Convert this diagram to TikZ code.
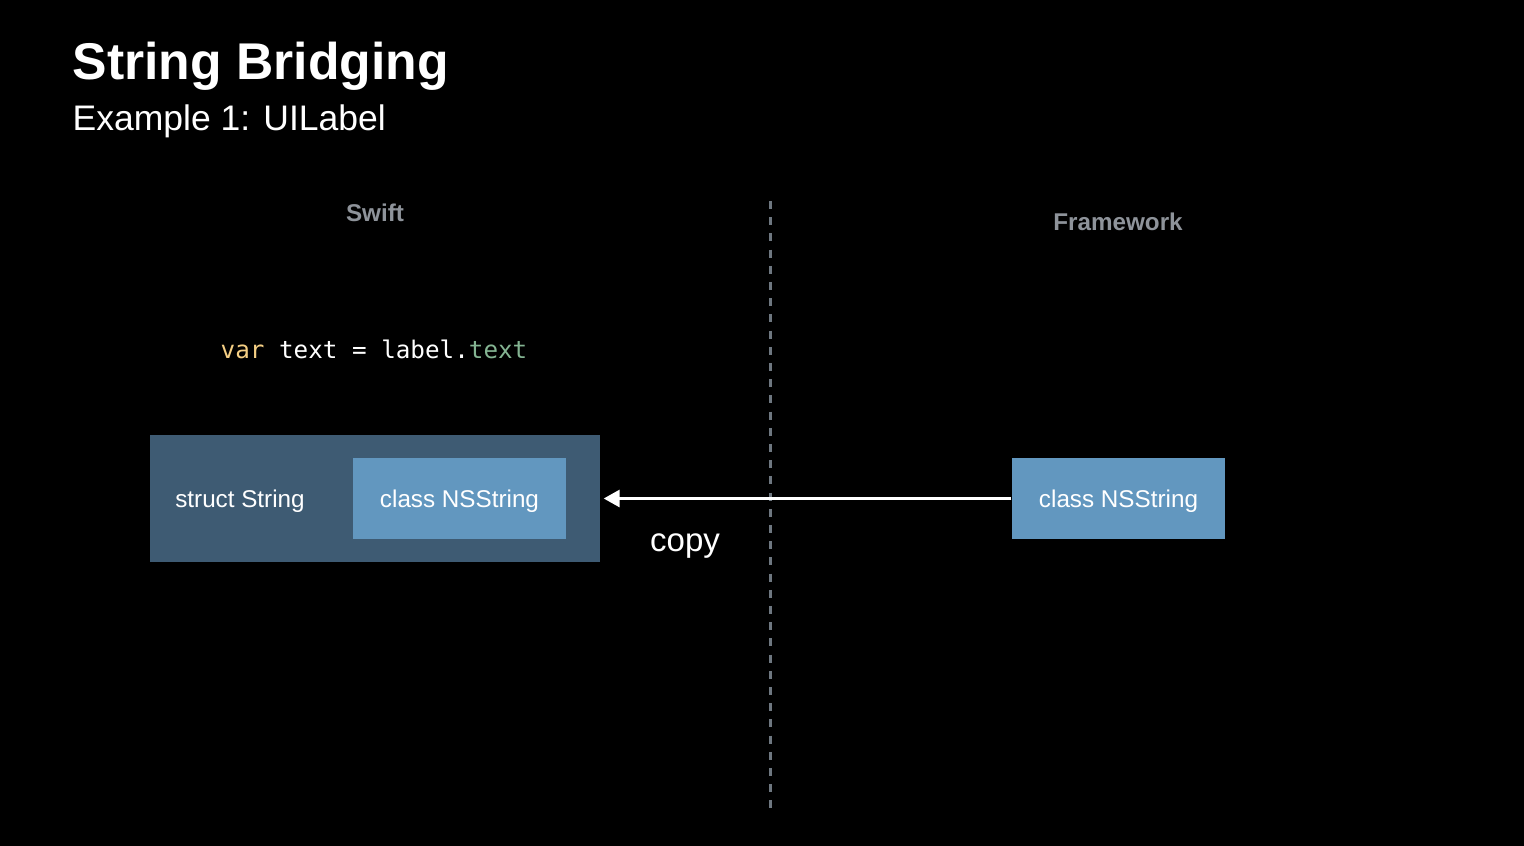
\documentclass[tikz,border=0pt]{standalone}
\usepackage{fontspec}
\setmainfont{Liberation Sans}
\setmonofont{DejaVu Sans Mono}
\usepackage{tikz}
\usetikzlibrary{arrows.meta}
\definecolor{outerblue}{RGB}{62,91,115}
\definecolor{innerblue}{RGB}{98,151,191}
\definecolor{headgray}{RGB}{142,147,154}
\definecolor{dashgray}{RGB}{110,119,128}
\definecolor{kwyellow}{RGB}{245,207,132}
\definecolor{propgreen}{RGB}{132,180,146}

\begin{document}
\begin{tikzpicture}
[>={Triangle[length=0.16cm,width=0.17cm]},
 side/.style={text=headgray,font=\fontsize{6.9}{8}\selectfont\bfseries},
 boxtext/.style={text=white,text depth=0pt,font=\fontsize{6.9}{8}\selectfont},
 nsbox/.style={fill=innerblue,minimum width=2.13cm,minimum height=0.81cm,inner sep=0pt,boxtext}]
\fill[black] (0,0) rectangle (15.24,-8.46);
\useasboundingbox (0,0) rectangle (15.24,-8.46);
\node[anchor=base west,text=white,inner sep=0pt,font=\fontsize{14.7}{17}\selectfont\bfseries] (title) at (0.72,-0.80) {String Bridging};
\node[anchor=base west,text=white,inner sep=0pt,font=\fontsize{10.1}{12}\selectfont] (subtitle) at (0.72,-1.31) {Example 1: UILabel};
\node[side] (swift) at (3.75,-2.13) {Swift};
\node[side] (framework) at (11.18,-2.22) {Framework};
\node[text=white,font=\fontsize{6.9}{8}\selectfont\ttfamily] (code) at (3.74,-3.49)
{\textcolor{kwyellow}{var} text = label.\textcolor{propgreen}{text}};

\node[fill=outerblue,minimum width=4.5cm,minimum height=1.27cm,inner sep=0pt] (structbox) at (3.75,-4.985) {};
\node[boxtext] (structlabel) at (2.40,-4.985) {struct String};
\node[nsbox] (swiftns) at (4.595,-4.985) {class NSString};
\node[nsbox] (frameworkns) at (11.185,-4.985) {class NSString};

\coordinate (divtop) at (7.70,-2.01);
\coordinate (divbottom) at (7.70,-8.10);
\draw[dashgray,line width=0.85pt,dash pattern=on 0.081cm off 0.081cm] (divtop) -- (divbottom);

\draw[->,white,line width=0.85pt,shorten >=0.85pt] (frameworkns.west) -- (structbox.east);
\node[text=white,font=\fontsize{9.4}{11}\selectfont] (copy) at (6.85,-5.46) {copy};
\end{tikzpicture}
\end{document}
